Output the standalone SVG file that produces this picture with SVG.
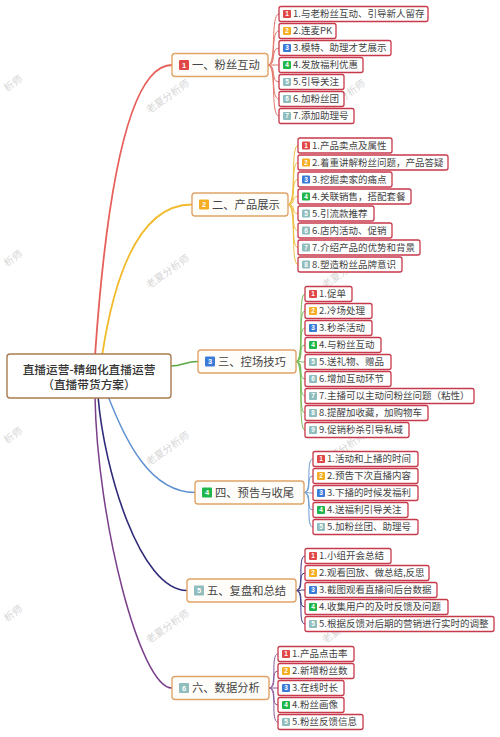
<svg xmlns="http://www.w3.org/2000/svg" width="500" height="737" viewBox="0 0 500 737">
<defs>
<style>
text{font-family:"Noto Sans CJK SC","Noto Sans",sans-serif;}
.wm{font-size:10px;fill:#d6d6d6;}
.root{fill:#fff;stroke:#a87b50;stroke-width:1.4;}
.rt{font-size:11.7px;fill:#333;text-anchor:middle;font-weight:500;}
.bbox{fill:#fffdf9;stroke:#e0a468;stroke-width:1.4;}
.bt{font-size:11.3px;fill:#444;}
.lbox{fill:#fff;stroke:#c8394b;stroke-width:1.3;}
.lt{font-size:9.5px;fill:#444;}
.bn{font-size:6.5px;fill:#fff;font-weight:bold;text-anchor:middle;font-family:"Liberation Sans",sans-serif;}
.bnb{font-size:7.5px;fill:#fff;font-weight:bold;text-anchor:middle;font-family:"Liberation Sans",sans-serif;}
.c1{fill:#e04848;}.c2{fill:#f5ad24;}.c3{fill:#3b7bd8;}.c4{fill:#1fb64b;}.c5{fill:#8fbcbc;}
.k1{stroke:#e3776a;stroke-width:1;}
.k2{stroke:#efc044;stroke-width:1;}
.k3{stroke:#74bc56;stroke-width:1;}
.k4{stroke:#6b9bd2;stroke-width:1;}
.k5{stroke:#3b3683;stroke-width:1;}
.k6{stroke:#8b5a9c;stroke-width:1;}
</style>
</defs>
<rect width="500" height="737" fill="#fff"/>
<g id="watermarks">
<text class="wm" transform="translate(168 97) rotate(-35)" text-anchor="middle" dy="3">老夏分析师</text>
<text class="wm" transform="translate(168 272) rotate(-35)" text-anchor="middle" dy="3">老夏分析师</text>
<text class="wm" transform="translate(168 449) rotate(-35)" text-anchor="middle" dy="3">老夏分析师</text>
<text class="wm" transform="translate(168 627) rotate(-35)" text-anchor="middle" dy="3">老夏分析师</text>
<text class="wm" transform="translate(7 92) rotate(-35)">析师</text>
<text class="wm" transform="translate(7 267) rotate(-35)">析师</text>
<text class="wm" transform="translate(7 444) rotate(-35)">析师</text>
<text class="wm" transform="translate(7 622) rotate(-35)">析师</text>
<text class="wm" transform="translate(344 97) rotate(-35)" text-anchor="middle" dy="3">老夏分析师</text>
<text class="wm" transform="translate(344 272) rotate(-35)" text-anchor="middle" dy="3">老夏分析师</text>
<text class="wm" transform="translate(344 449) rotate(-35)" text-anchor="middle" dy="3">老夏分析师</text>
<text class="wm" transform="translate(344 627) rotate(-35)" text-anchor="middle" dy="3">老夏分析师</text>
</g>
<g id="connectors" fill="none">
<path d="M 95 356 Q 115 65 172 65" stroke="#e65f5a" stroke-width="1.8"/>
<path d="M 102 356 Q 125 204.5 192 204.5" stroke="#f2bb2c" stroke-width="1.8"/>
<path d="M 170 366 C 184 366, 184 361.5, 198 361.5" stroke="#5aa845" stroke-width="1.4"/>
<path d="M 108 396 C 125 440, 150 492.5, 195 492.5" stroke="#5b8ed0" stroke-width="1.4"/>
<path d="M 98 396 C 104 470, 140 590.5, 187 590.5" stroke="#2e2a78" stroke-width="1.6"/>
<path d="M 95 396 C 97 520, 140 688, 172 688" stroke="#7a3f8a" stroke-width="1.5"/>
<g class="k1">
<path d="M 268 65 C 277 65, 270 14, 279 14"/>
<path d="M 268 65 C 277 65, 270 31, 279 31"/>
<path d="M 268 65 C 277 65, 270 48, 279 48"/>
<path d="M 268 65 L 279 65"/>
<path d="M 268 65 C 277 65, 270 82, 279 82"/>
<path d="M 268 65 C 277 65, 270 99, 279 99"/>
<path d="M 268 65 C 277 65, 270 116, 279 116"/>
</g>
<g class="k2">
<path d="M 288 204.5 C 297 204.5, 290 145.5, 298 145.5"/>
<path d="M 288 204.5 C 297 204.5, 290 162.5, 298 162.5"/>
<path d="M 288 204.5 C 297 204.5, 290 179.5, 298 179.5"/>
<path d="M 288 204.5 C 297 204.5, 290 196.5, 298 196.5"/>
<path d="M 288 204.5 C 297 204.5, 290 213.5, 298 213.5"/>
<path d="M 288 204.5 C 297 204.5, 290 230.5, 298 230.5"/>
<path d="M 288 204.5 C 297 204.5, 290 247.5, 298 247.5"/>
<path d="M 288 204.5 C 297 204.5, 290 264.5, 298 264.5"/>
</g>
<g class="k3">
<path d="M 296 361.5 C 305 361.5, 297 294, 305 294"/>
<path d="M 296 361.5 C 305 361.5, 297 311, 305 311"/>
<path d="M 296 361.5 C 305 361.5, 297 328, 305 328"/>
<path d="M 296 361.5 C 305 361.5, 297 345, 305 345"/>
<path d="M 296 361.5 C 305 361.5, 297 362, 305 362"/>
<path d="M 296 361.5 C 305 361.5, 297 379, 305 379"/>
<path d="M 296 361.5 C 305 361.5, 297 396, 305 396"/>
<path d="M 296 361.5 C 305 361.5, 297 413, 305 413"/>
<path d="M 296 361.5 C 305 361.5, 297 430, 305 430"/>
</g>
<g class="k4">
<path d="M 304 492.5 C 313 492.5, 305 459, 313 459"/>
<path d="M 304 492.5 C 313 492.5, 305 476, 313 476"/>
<path d="M 304 492.5 C 313 492.5, 305 493, 313 493"/>
<path d="M 304 492.5 C 313 492.5, 305 510, 313 510"/>
<path d="M 304 492.5 C 313 492.5, 305 527, 313 527"/>
</g>
<g class="k5">
<path d="M 296 590.5 C 305 590.5, 297 556, 305 556"/>
<path d="M 296 590.5 C 305 590.5, 297 573, 305 573"/>
<path d="M 296 590.5 C 305 590.5, 297 590, 305 590"/>
<path d="M 296 590.5 C 305 590.5, 297 607, 305 607"/>
<path d="M 296 590.5 C 305 590.5, 297 624, 305 624"/>
</g>
<g class="k6">
<path d="M 269 688 C 278 688, 270 654, 278 654"/>
<path d="M 269 688 C 278 688, 270 671, 278 671"/>
<path d="M 269 688 L 278 688"/>
<path d="M 269 688 C 278 688, 270 705, 278 705"/>
<path d="M 269 688 C 278 688, 270 722, 278 722"/>
</g>
</g>

<g id="root">
<rect class="root" x="7" y="354" width="164" height="44" rx="3"/>
<text class="rt" x="89" y="373.5">直播运营-精细化直播运营</text>
<text class="rt" x="89" y="389">（直播带货方案）</text>
</g>

<g id="branch1">
<rect class="bbox" x="172" y="53.5" width="96" height="23" rx="3"/>
<rect class="c1" x="179" y="60" width="10" height="10" rx="1"/>
<text class="bnb" x="184" y="67.7">1</text>
<text class="bt" x="192" y="69">一、粉丝互动</text>
</g>
<g id="branch2">
<rect class="bbox" x="192" y="193" width="96" height="23" rx="3"/>
<rect class="c2" x="199" y="199.5" width="10" height="10" rx="1"/>
<text class="bnb" x="204" y="207.2">2</text>
<text class="bt" x="212" y="208.5">二、产品展示</text>
</g>
<g id="branch3">
<rect class="bbox" x="198" y="350" width="98" height="23" rx="3"/>
<rect class="c3" x="205" y="356.5" width="10" height="10" rx="1"/>
<text class="bnb" x="210" y="364.2">3</text>
<text class="bt" x="218" y="365.5">三、控场技巧</text>
</g>
<g id="branch4">
<rect class="bbox" x="195" y="481" width="109" height="23" rx="3"/>
<rect class="c4" x="202" y="487.5" width="10" height="10" rx="1"/>
<text class="bnb" x="207" y="495.2">4</text>
<text class="bt" x="215" y="496.5">四、预告与收尾</text>
</g>
<g id="branch5">
<rect class="bbox" x="187" y="579" width="109" height="23" rx="3"/>
<rect class="c5" x="194" y="585.5" width="10" height="10" rx="1"/>
<text class="bnb" x="199" y="593.2">5</text>
<text class="bt" x="207" y="594.5">五、复盘和总结</text>
</g>
<g id="branch6">
<rect class="bbox" x="172" y="676.5" width="97" height="23" rx="3"/>
<rect class="c5" x="179" y="683" width="10" height="10" rx="1"/>
<text class="bnb" x="184" y="690.7">6</text>
<text class="bt" x="192" y="692">六、数据分析</text>
</g>

<g id="b1-l1"><rect class="lbox" x="279" y="6.5" width="149" height="15" rx="2"/><rect class="c1" x="283" y="10" width="8" height="8" rx="1"/><text class="bn" x="287" y="16.3">1</text><text class="lt" x="293" y="17.3">1.与老粉丝互动、引导新人留存</text></g>
<g id="b1-l2"><rect class="lbox" x="279" y="23.5" width="57" height="15" rx="2"/><rect class="c2" x="283" y="27" width="8" height="8" rx="1"/><text class="bn" x="287" y="33.3">2</text><text class="lt" x="293" y="34.3">2.连麦PK</text></g>
<g id="b1-l3"><rect class="lbox" x="279" y="40.5" width="112" height="15" rx="2"/><rect class="c3" x="283" y="44" width="8" height="8" rx="1"/><text class="bn" x="287" y="50.3">3</text><text class="lt" x="293" y="51.3">3.模特、助理才艺展示</text></g>
<g id="b1-l4"><rect class="lbox" x="279" y="57.5" width="84" height="15" rx="2"/><rect class="c4" x="283" y="61" width="8" height="8" rx="1"/><text class="bn" x="287" y="67.3">4</text><text class="lt" x="293" y="68.3">4.发放福利优惠</text></g>
<g id="b1-l5"><rect class="lbox" x="279" y="74.5" width="65" height="15" rx="2"/><rect class="c5" x="283" y="78" width="8" height="8" rx="1"/><text class="bn" x="287" y="84.3">5</text><text class="lt" x="293" y="85.3">5.引导关注</text></g>
<g id="b1-l6"><rect class="lbox" x="279" y="91.5" width="65" height="15" rx="2"/><rect class="c5" x="283" y="95" width="8" height="8" rx="1"/><text class="bn" x="287" y="101.3">6</text><text class="lt" x="293" y="102.3">6.加粉丝团</text></g>
<g id="b1-l7"><rect class="lbox" x="279" y="108.5" width="75" height="15" rx="2"/><rect class="c5" x="283" y="112" width="8" height="8" rx="1"/><text class="bn" x="287" y="118.3">7</text><text class="lt" x="293" y="119.3">7.添加助理号</text></g>

<g id="b2-l1"><rect class="lbox" x="298" y="138" width="94" height="15" rx="2"/><rect class="c1" x="302" y="141.5" width="8" height="8" rx="1"/><text class="bn" x="306" y="147.8">1</text><text class="lt" x="312" y="148.8">1.产品卖点及属性</text></g>
<g id="b2-l2"><rect class="lbox" x="298" y="155" width="150" height="15" rx="2"/><rect class="c2" x="302" y="158.5" width="8" height="8" rx="1"/><text class="bn" x="306" y="164.8">2</text><text class="lt" x="312" y="165.8">2.着重讲解粉丝问题，产品答疑</text></g>
<g id="b2-l3"><rect class="lbox" x="298" y="172" width="94" height="15" rx="2"/><rect class="c3" x="302" y="175.5" width="8" height="8" rx="1"/><text class="bn" x="306" y="181.8">3</text><text class="lt" x="312" y="182.8">3.挖掘卖家的痛点</text></g>
<g id="b2-l4"><rect class="lbox" x="298" y="189" width="113" height="15" rx="2"/><rect class="c4" x="302" y="192.5" width="8" height="8" rx="1"/><text class="bn" x="306" y="198.8">4</text><text class="lt" x="312" y="199.8">4.关联销售，搭配套餐</text></g>
<g id="b2-l5"><rect class="lbox" x="298" y="206" width="76" height="15" rx="2"/><rect class="c5" x="302" y="209.5" width="8" height="8" rx="1"/><text class="bn" x="306" y="215.8">5</text><text class="lt" x="312" y="216.8">5.引流款推荐</text></g>
<g id="b2-l6"><rect class="lbox" x="298" y="223" width="94" height="15" rx="2"/><rect class="c5" x="302" y="226.5" width="8" height="8" rx="1"/><text class="bn" x="306" y="232.8">6</text><text class="lt" x="312" y="233.8">6.店内活动、促销</text></g>
<g id="b2-l7"><rect class="lbox" x="298" y="240" width="122" height="15" rx="2"/><rect class="c5" x="302" y="243.5" width="8" height="8" rx="1"/><text class="bn" x="306" y="249.8">7</text><text class="lt" x="312" y="250.8">7.介绍产品的优势和背景</text></g>
<g id="b2-l8"><rect class="lbox" x="298" y="257" width="104" height="15" rx="2"/><rect class="c5" x="302" y="260.5" width="8" height="8" rx="1"/><text class="bn" x="306" y="266.8">8</text><text class="lt" x="312" y="267.8">8.塑造粉丝品牌意识</text></g>

<g id="b3-l1"><rect class="lbox" x="305" y="286.5" width="47" height="15" rx="2"/><rect class="c1" x="309" y="290" width="8" height="8" rx="1"/><text class="bn" x="313" y="296.3">1</text><text class="lt" x="319" y="297.3">1.促单</text></g>
<g id="b3-l2"><rect class="lbox" x="305" y="303.5" width="67" height="15" rx="2"/><rect class="c2" x="309" y="307" width="8" height="8" rx="1"/><text class="bn" x="313" y="313.3">2</text><text class="lt" x="319" y="314.3">2.冷场处理</text></g>
<g id="b3-l3"><rect class="lbox" x="305" y="320.5" width="67" height="15" rx="2"/><rect class="c3" x="309" y="324" width="8" height="8" rx="1"/><text class="bn" x="313" y="330.3">3</text><text class="lt" x="319" y="331.3">3.秒杀活动</text></g>
<g id="b3-l4"><rect class="lbox" x="305" y="337.5" width="76" height="15" rx="2"/><rect class="c4" x="309" y="341" width="8" height="8" rx="1"/><text class="bn" x="313" y="347.3">4</text><text class="lt" x="319" y="348.3">4.与粉丝互动</text></g>
<g id="b3-l5"><rect class="lbox" x="305" y="354.5" width="86" height="15" rx="2"/><rect class="c5" x="309" y="358" width="8" height="8" rx="1"/><text class="bn" x="313" y="364.3">5</text><text class="lt" x="319" y="365.3">5.送礼物、赠品</text></g>
<g id="b3-l6"><rect class="lbox" x="305" y="371.5" width="86" height="15" rx="2"/><rect class="c5" x="309" y="375" width="8" height="8" rx="1"/><text class="bn" x="313" y="381.3">6</text><text class="lt" x="319" y="382.3">6.增加互动环节</text></g>
<g id="b3-l7"><rect class="lbox" x="305" y="388.5" width="169" height="15" rx="2"/><rect class="c5" x="309" y="392" width="8" height="8" rx="1"/><text class="bn" x="313" y="398.3">7</text><text class="lt" x="319" y="399.3">7.主播可以主动问粉丝问题（粘性）</text></g>
<g id="b3-l8"><rect class="lbox" x="305" y="405.5" width="123" height="15" rx="2"/><rect class="c5" x="309" y="409" width="8" height="8" rx="1"/><text class="bn" x="313" y="415.3">8</text><text class="lt" x="319" y="416.3">8.提醒加收藏，加购物车</text></g>
<g id="b3-l9"><rect class="lbox" x="305" y="422.5" width="104" height="15" rx="2"/><rect class="c5" x="309" y="426" width="8" height="8" rx="1"/><text class="bn" x="313" y="432.3">9</text><text class="lt" x="319" y="433.3">9.促销秒杀引导私域</text></g>

<g id="b4-l1"><rect class="lbox" x="313" y="451.5" width="105" height="15" rx="2"/><rect class="c1" x="317" y="455" width="8" height="8" rx="1"/><text class="bn" x="321" y="461.3">1</text><text class="lt" x="327" y="462.3">1.活动和上播的时间</text></g>
<g id="b4-l2"><rect class="lbox" x="313" y="468.5" width="105" height="15" rx="2"/><rect class="c2" x="317" y="472" width="8" height="8" rx="1"/><text class="bn" x="321" y="478.3">2</text><text class="lt" x="327" y="479.3">2.预告下次直播内容</text></g>
<g id="b4-l3"><rect class="lbox" x="313" y="485.5" width="105" height="15" rx="2"/><rect class="c3" x="317" y="489" width="8" height="8" rx="1"/><text class="bn" x="321" y="495.3">3</text><text class="lt" x="327" y="496.3">3.下播的时候发福利</text></g>
<g id="b4-l4"><rect class="lbox" x="313" y="502.5" width="95" height="15" rx="2"/><rect class="c4" x="317" y="506" width="8" height="8" rx="1"/><text class="bn" x="321" y="512.3">4</text><text class="lt" x="327" y="513.3">4.送福利引导关注</text></g>
<g id="b4-l5"><rect class="lbox" x="313" y="519.5" width="105" height="15" rx="2"/><rect class="c5" x="317" y="523" width="8" height="8" rx="1"/><text class="bn" x="321" y="529.3">5</text><text class="lt" x="327" y="530.3">5.加粉丝团、助理号</text></g>

<g id="b5-l1"><rect class="lbox" x="305" y="548.5" width="86" height="15" rx="2"/><rect class="c1" x="309" y="552" width="8" height="8" rx="1"/><text class="bn" x="313" y="558.3">1</text><text class="lt" x="319" y="559.3">1.小组开会总结</text></g>
<g id="b5-l2"><rect class="lbox" x="305" y="565.5" width="124" height="15" rx="2"/><rect class="c2" x="309" y="569" width="8" height="8" rx="1"/><text class="bn" x="313" y="575.3">2</text><text class="lt" x="319" y="576.3">2.观看回放、做总结,反思</text></g>
<g id="b5-l3"><rect class="lbox" x="305" y="582.5" width="132" height="15" rx="2"/><rect class="c3" x="309" y="586" width="8" height="8" rx="1"/><text class="bn" x="313" y="592.3">3</text><text class="lt" x="319" y="593.3">3.截图观看直播间后台数据</text></g>
<g id="b5-l4"><rect class="lbox" x="305" y="599.5" width="143" height="15" rx="2"/><rect class="c4" x="309" y="603" width="8" height="8" rx="1"/><text class="bn" x="313" y="609.3">4</text><text class="lt" x="319" y="610.3">4.收集用户的及时反馈及问题</text></g>
<g id="b5-l5"><rect class="lbox" x="305" y="616.5" width="189" height="15" rx="2"/><rect class="c5" x="309" y="620" width="8" height="8" rx="1"/><text class="bn" x="313" y="626.3">5</text><text class="lt" x="319" y="627.3">5.根据反馈对后期的营销进行实时的调整</text></g>

<g id="b6-l1"><rect class="lbox" x="278" y="646.5" width="76" height="15" rx="2"/><rect class="c1" x="282" y="650" width="8" height="8" rx="1"/><text class="bn" x="286" y="656.3">1</text><text class="lt" x="292" y="657.3">1.产品点击率</text></g>
<g id="b6-l2"><rect class="lbox" x="278" y="663.5" width="76" height="15" rx="2"/><rect class="c2" x="282" y="667" width="8" height="8" rx="1"/><text class="bn" x="286" y="673.3">2</text><text class="lt" x="292" y="674.3">2.新增粉丝数</text></g>
<g id="b6-l3"><rect class="lbox" x="278" y="680.5" width="66" height="15" rx="2"/><rect class="c3" x="282" y="684" width="8" height="8" rx="1"/><text class="bn" x="286" y="690.3">3</text><text class="lt" x="292" y="691.3">3.在线时长</text></g>
<g id="b6-l4"><rect class="lbox" x="278" y="697.5" width="66" height="15" rx="2"/><rect class="c4" x="282" y="701" width="8" height="8" rx="1"/><text class="bn" x="286" y="707.3">4</text><text class="lt" x="292" y="708.3">4.粉丝画像</text></g>
<g id="b6-l5"><rect class="lbox" x="278" y="714.5" width="85" height="15" rx="2"/><rect class="c5" x="282" y="718" width="8" height="8" rx="1"/><text class="bn" x="286" y="724.3">5</text><text class="lt" x="292" y="725.3">5.粉丝反馈信息</text></g>
</svg>
